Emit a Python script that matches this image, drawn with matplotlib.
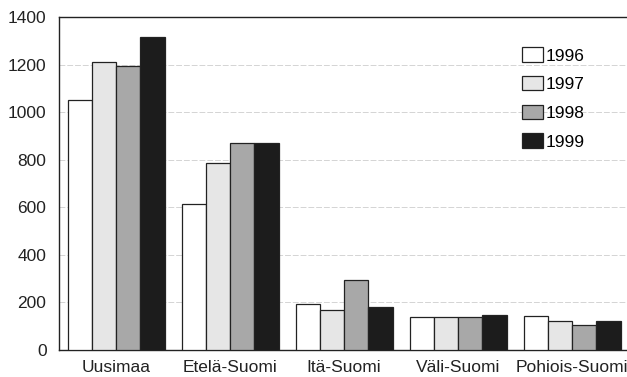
import matplotlib
matplotlib.use("Agg")
import matplotlib.pyplot as plt
import numpy as np

plt.rcParams['font.family'] = ['Liberation Sans', 'DejaVu Sans']

regions = ["Uusimaa", "Etelä-Suomi", "Itä-Suomi", "Väli-Suomi", "Pohiois-Suomi"]
years = ["1996", "1997", "1998", "1999"]
v1996 = [1050, 615, 193, 139, 144]
v1997 = [1210, 785, 168, 139, 123]
v1998 = [1195, 870, 294, 139, 105]
v1999 = [1315, 870, 182, 148, 123]
series = [v1996, v1997, v1998, v1999]
colors = ["#ffffff", "#e6e6e6", "#a8a8a8", "#1c1c1c"]

fig = plt.figure(figsize=(6.27, 3.77), dpi=100)
ax = fig.add_axes([59/627, 27/377, 1 - 59/627, 333/377])

x = np.arange(len(regions))
w = 0.85 / 4
for i, (vals, c, lab) in enumerate(zip(series, colors, years)):
    ax.bar(x - 0.425 + w * (i + 0.5), vals, width=w, color=c, edgecolor="#222222",
           linewidth=0.9, label=lab, zorder=3)

ax.set_xlim(-0.5, 4.48)
ax.set_ylim(0, 1400)
ax.set_yticks(range(0, 1401, 200))
ax.set_xticks(x)
ax.set_xticklabels(regions)
ax.tick_params(axis='both', length=0, labelsize=12.5, colors="#222222")
ax.tick_params(axis='y', pad=9)
ax.tick_params(axis='x', pad=7)
ax.yaxis.grid(True, color="#d4d4d4", linewidth=0.7, linestyle=(0, (6, 2)), zorder=0)
for s in ["left", "top", "bottom"]:
    ax.spines[s].set_color("#222222")
    ax.spines[s].set_linewidth(1.0)
ax.spines["right"].set_visible(False)

leg = ax.legend(loc="upper left", bbox_to_anchor=(0.8, 0.935), frameon=False,
                fontsize=12.5, handlelength=1.2, handleheight=0.9, handletextpad=0.15,
                labelspacing=0.72, borderpad=0)

fig.savefig("out.png", dpi=100)
